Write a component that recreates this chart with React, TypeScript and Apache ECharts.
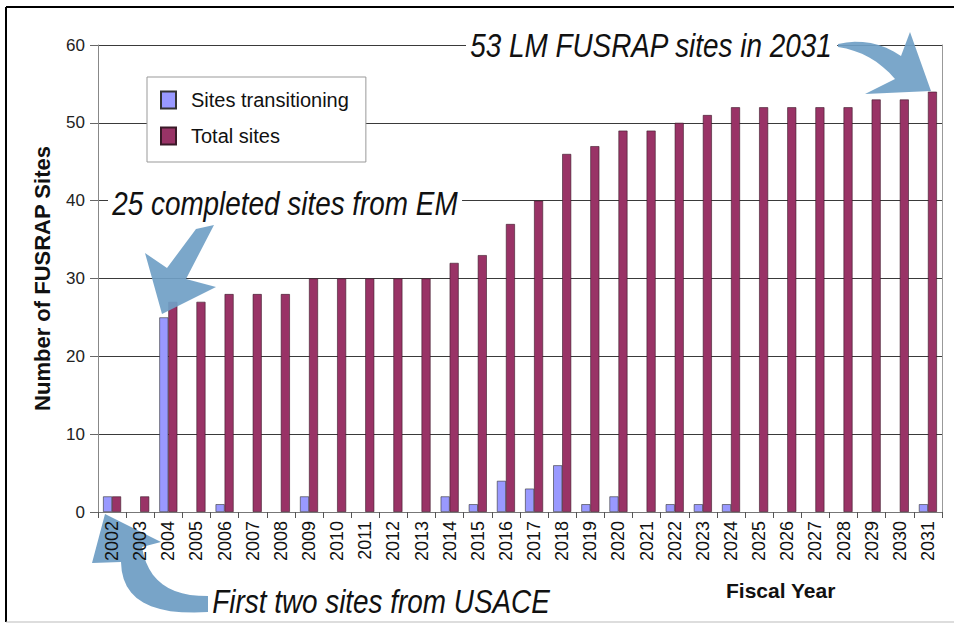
import React, { useEffect, useRef } from "react";
import * as echarts from "echarts";

const years = [
  "2002", "2003", "2004", "2005", "2006", "2007", "2008", "2009", "2010", "2011",
  "2012", "2013", "2014", "2015", "2016", "2017", "2018", "2019", "2020", "2021",
  "2022", "2023", "2024", "2025", "2026", "2027", "2028", "2029", "2030", "2031",
];
const sitesTransitioning = [
  2, 0, 25, 0, 1, 0, 0, 2, 0, 0,
  0, 0, 2, 1, 4, 3, 6, 1, 2, 0,
  1, 1, 1, 0, 0, 0, 0, 0, 0, 1,
];
const totalSites = [
  2, 2, 27, 27, 28, 28, 28, 30, 30, 30,
  30, 30, 32, 33, 37, 40, 46, 47, 49, 49,
  50, 51, 52, 52, 52, 52, 52, 53, 53, 54,
];
const yMin = 0;
const yMax = 60;
const yInterval = 10;

const FONT = "'Liberation Sans', Arial, Helvetica, sans-serif";
const ARROW = "rgba(112,160,198,0.92)";

type Pt = [number, number];
// sample a quadratic curve (annotation arrow outline only)
const quad = (p0: Pt, c: Pt, p1: Pt, n = 10): Pt[] => {
  const out: Pt[] = [];
  for (let i = 0; i <= n; i++) {
    const t = i / n;
    const a = (1 - t) * (1 - t), b = 2 * (1 - t) * t, d = t * t;
    out.push([a * p0[0] + b * c[0] + d * p1[0], a * p0[1] + b * c[1] + d * p1[1]]);
  }
  return out;
};

const annotationText = (text: string, x: number, y: number) => ({
  type: "text",
  x,
  y,
  scaleX: 0.845,
  z: 100,
  style: {
    text,
    fontSize: 33,
    fontStyle: "italic",
    fontFamily: FONT,
    fill: "#111",
    align: "left",
    verticalAlign: "middle",
    textAlign: "left",
    textVerticalAlign: "middle",
    backgroundColor: "#fff",
    padding: [2, 5, 2, 5],
  },
});

export default function App() {
  const ref = useRef<HTMLDivElement>(null);

  useEffect(() => {
    if (!ref.current) return;
    const chart = echarts.init(ref.current, undefined, { renderer: "svg" });

    const topArrow: Pt[] = [
      ...quad([838, 44], [872, 36], [901, 56], 8),
      [910, 32], [931, 91], [865, 94], [895, 79],
      ...quad([895, 79], [872, 52], [838, 47], 8),
    ];
    const bottomArrow: Pt[] = [
      [105, 514], [161, 542], [142, 547],
      ...quad([142, 547], [150, 597], [208, 596], 12),
      [208, 612],
      ...quad([208, 612], [122, 618], [121, 562], 12),
      [92, 563],
    ];

    chart.setOption({
      animation: false,
      backgroundColor: "#fff",
      textStyle: { fontFamily: FONT },
      grid: { left: 98, right: 12, top: 45, bottom: 112, containLabel: false },
      legend: {
        orient: "vertical",
        left: 147,
        top: 77,
        padding: [13, 17, 16, 13],
        itemWidth: 15,
        itemHeight: 17,
        itemGap: 16,
        backgroundColor: "#fff",
        borderColor: "#999",
        borderWidth: 1,
        icon: "rect",
        textStyle: { fontSize: 20, color: "#111", fontFamily: FONT, padding: [0, 0, 0, 10] },
        data: ["Sites transitioning", "Total sites"],
      },
      xAxis: {
        type: "category",
        data: years,
        z: 5,
        axisLine: { show: true, lineStyle: { color: "#777", width: 1 } },
        axisTick: { show: true, length: 6, lineStyle: { color: "#555" } },
        axisLabel: { rotate: 90, fontSize: 18, color: "#111", margin: 9, fontFamily: FONT, interval: 0 },
        splitLine: { show: false },
      },
      yAxis: [
        {
          type: "value",
          min: yMin,
          max: yMax,
          interval: yInterval,
          name: "Number of FUSRAP Sites",
          nameLocation: "middle",
          nameGap: 45,
          nameRotate: 90,
          nameTextStyle: { fontSize: 22, fontWeight: "bold", color: "#111", fontFamily: FONT },
          axisLine: { show: true, lineStyle: { color: "#888", width: 1 } },
          axisTick: { show: true, length: 8, lineStyle: { color: "#666" } },
          axisLabel: { fontSize: 17, color: "#222", margin: 13, fontFamily: FONT },
          splitLine: { show: true, lineStyle: { color: "#3a3a3a", width: 1 } },
        },
        {
          type: "value",
          min: yMin,
          max: yMax,
          interval: yInterval,
          position: "right",
          axisLine: { show: true, lineStyle: { color: "#999", width: 1 } },
          axisTick: { show: false },
          axisLabel: { show: false },
          splitLine: { show: false },
        },
      ],
      series: [
        {
          name: "Sites transitioning",
          type: "bar",
          data: sitesTransitioning.map((v) => (v === 0 ? "-" : v)),
          barWidth: 9,
          barGap: "0%",
          itemStyle: { color: "#9999ff", borderColor: "#333", borderWidth: 0.6 },
        },
        {
          name: "Total sites",
          type: "bar",
          data: totalSites,
          barWidth: 9,
          barGap: "0%",
          itemStyle: { color: "#993366", borderColor: "#3a1a28", borderWidth: 0.6 },
        },
      ],
      graphic: [
        { type: "line", shape: { x1: 6, y1: 7, x2: 954, y2: 7 }, style: { stroke: "#000", lineWidth: 2 }, z: 100 },
        { type: "line", shape: { x1: 6, y1: 7, x2: 6, y2: 622 }, style: { stroke: "#000", lineWidth: 2 }, z: 100 },
        { type: "line", shape: { x1: 6, y1: 622, x2: 954, y2: 622 }, style: { stroke: "#bbb", lineWidth: 1 }, z: 100 },
        annotationText("53 LM FUSRAP sites in 2031", 466, 45),
        annotationText("25 completed sites from EM", 108, 203),
        annotationText("First two sites from USACE", 208, 601),
        {
          type: "text",
          x: 726,
          y: 590,
          z: 100,
          style: {
            text: "Fiscal Year",
            fontSize: 21,
            fontWeight: "bold",
            fontFamily: FONT,
            fill: "#111",
            align: "left",
            verticalAlign: "middle",
            textAlign: "left",
            textVerticalAlign: "middle",
          },
        },
        { type: "polygon", z: 90, shape: { points: topArrow }, style: { fill: ARROW } },
        {
          type: "polygon",
          z: 90,
          shape: {
            points: [
              [214, 225], [196, 229], [167, 268], [145, 253], [162, 314], [216, 287], [186, 279],
            ],
          },
          style: { fill: ARROW },
        },
        { type: "polygon", z: -10, shape: { points: bottomArrow }, style: { fill: "rgb(120,164,200)" } },
      ],
    });
    return () => chart.dispose();
  }, []);

  return <div ref={ref} style={{ width: 954, height: 624, position: "absolute", left: 0, top: 0 }} />;
}
